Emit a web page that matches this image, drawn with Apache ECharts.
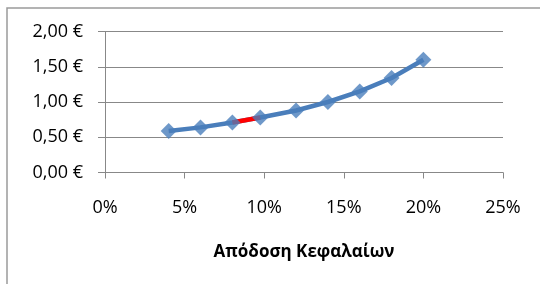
<!DOCTYPE html>
<html>
<head>
<meta charset="utf-8">
<script src="https://cdn.jsdelivr.net/npm/echarts@6/dist/echarts.min.js"></script>
<style>
html,body{margin:0;padding:0;background:#fff;}
#chart{width:540px;height:284px;}
</style>
</head>
<body>
<div id="chart"></div>
<script>
// Data
var returns = [4, 6, 8, 9.75, 12, 14, 16, 18, 20];           // Απόδοση Κεφαλαίων (%)
var values  = [0.59, 0.64, 0.71, 0.78, 0.88, 1.00, 1.15, 1.34, 1.60]; // €
var redFrom = 2, redTo = 3; // segment drawn in red (between these point indices)
var xTicks = [0, 5, 10, 15, 20, 25];
var yTicks = [0, 0.5, 1.0, 1.5, 2.0];
var xTitle = 'Απόδοση Κεφαλαίων';

var pts = returns.map(function (x, i) { return [x, values[i]]; });
var redPts = pts.slice(redFrom, redTo + 1);

var font = '"Open Sans", "Noto Sans", sans-serif';
var blue = '#4A7EBB';
var grid = '#888888';

var chart = echarts.init(document.getElementById('chart'), null, {renderer: 'canvas'});
chart.setOption({
  animation: false,
  backgroundColor: '#ffffff',
  graphic: [{
    type: 'rect', silent: true, z: 0,
    shape: {x: 7, y: 8, width: 700, height: 400},
    style: {fill: 'none', stroke: '#9a9a9a', lineWidth: 1.5}
  }],
  grid: {left: 105, right: 37, top: 31.5, bottom: 111.5, containLabel: false},
  xAxis: {
    type: 'value', min: xTicks[0], max: xTicks[xTicks.length - 1], interval: 5,
    axisLine: {show: true, lineStyle: {color: grid, width: 1}},
    axisTick: {show: true, inside: false, length: 6, lineStyle: {color: grid}},
    splitLine: {show: false},
    axisLabel: {
      margin: 26, color: '#000', fontFamily: font, fontSize: 18,
      formatter: function (v) { return v + '%'; }
    },
    name: xTitle, nameLocation: 'middle', nameGap: 71,
    nameTextStyle: {color: '#000', fontFamily: font, fontSize: 17, fontWeight: 'bold'}
  },
  yAxis: {
    type: 'value', min: yTicks[0], max: yTicks[yTicks.length - 1], interval: 0.5,
    axisLine: {show: true, lineStyle: {color: grid, width: 1}},
    axisTick: {show: true, inside: false, length: 7, lineStyle: {color: grid}},
    splitLine: {show: true, lineStyle: {color: grid, width: 1.2}},
    axisLabel: {
      margin: 22, color: '#000', fontFamily: font, fontSize: 18,
      formatter: function (v) { return v.toFixed(2).replace('.', ',') + ' €'; }
    }
  },
  series: [
    {
      type: 'line', data: pts, z: 2, showSymbol: false, symbol: 'none',
      lineStyle: {color: blue, width: 4.5}, silent: true
    },
    {
      type: 'line', data: redPts, z: 3, showSymbol: false, symbol: 'none',
      lineStyle: {color: '#FF0000', width: 4.5}, silent: true
    },
    {
      type: 'scatter', data: pts, z: 4, symbol: 'diamond', symbolSize: 16,
      itemStyle: {color: blue}, silent: true
    }
  ]
});
</script>
</body>
</html>
